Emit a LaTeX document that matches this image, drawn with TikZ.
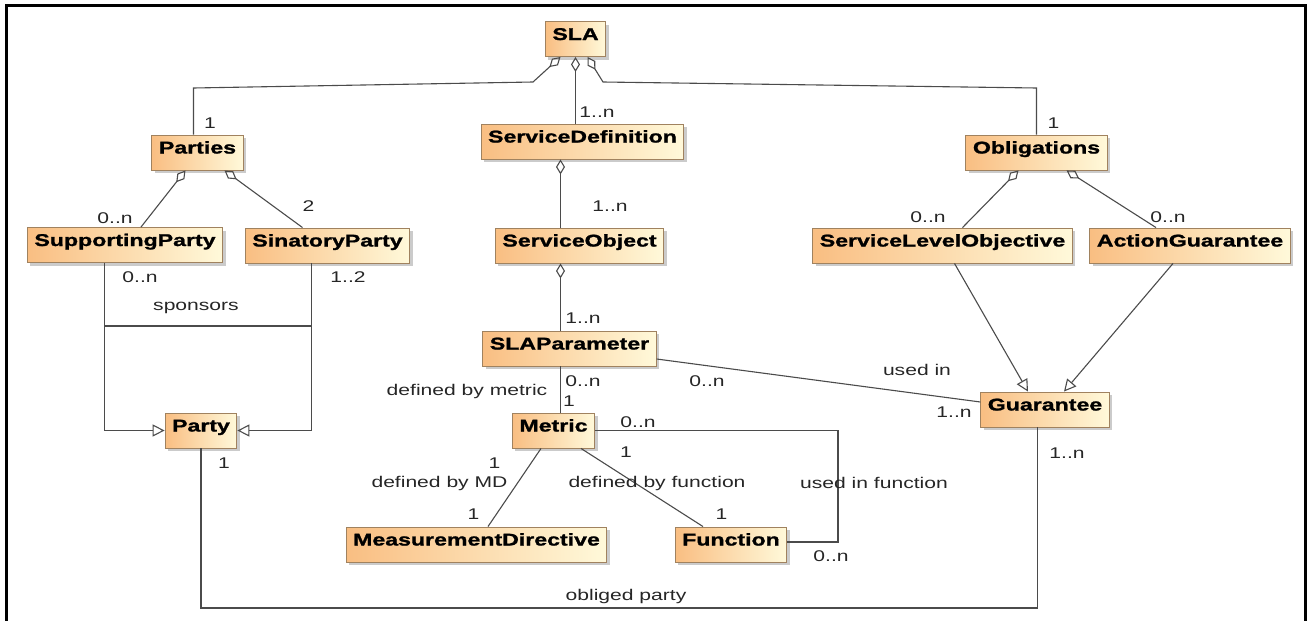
\documentclass[tikz,border=0pt]{standalone}
\usepackage{fontspec}
\setmainfont{Liberation Sans}[FakeStretch=1.36,BoldFeatures={FakeBold=1.3}]
\usepackage{tikz}
\usetikzlibrary{arrows.meta,shadows,calc}
\definecolor{boxleft}{RGB}{249,190,130}
\definecolor{boxright}{RGB}{255,249,218}
\definecolor{boxline}{RGB}{160,130,95}
\definecolor{wire}{RGB}{75,75,75}
\tikzset{%
	classbox/.style = {draw=boxline, line width=0.9pt, rectangle, left color=boxleft, right color=boxright,
		minimum height=35pt, inner xsep=7pt, inner ysep=0pt, text height=12pt, text depth=10pt,
		font=\fontsize{17}{20}\selectfont\bfseries,
		drop shadow={shadow xshift=3pt, shadow yshift=-3pt, fill=black!45, opacity=0.45}},
	assoc/.style    = {draw=wire, line width=1.1pt},
	aggr/.style     = {assoc, {Diamond[open,length=15pt,width=9pt]}-},
	gen/.style      = {assoc, -{Triangle[open,length=12pt,width=12pt]}},
	lbl/.style      = {inner sep=0pt, text=black!85, font=\fontsize{15.5}{18}\selectfont},
}
\begin{document}
\begin{tikzpicture}[x=1pt,y=-1pt]
	\useasboundingbox (0,0) rectangle (1309,621);
	% frame
	\draw[line width=3pt] (6,621) -- (6,5.5) -- (1305,5.5) -- (1305,621);
	% classes
	\node[classbox] (sla)         at (575.5,39)   {SLA};
	\node[classbox] (parties)     at (197.5,152.5) {Parties};
	\node[classbox] (servdef)     at (582.5,141.5) {ServiceDefinition};
	\node[classbox] (obligations) at (1036.5,152.5) {Obligations};
	\node[classbox] (suppparty)   at (125,245)    {SupportingParty};
	\node[classbox] (sinparty)    at (327.5,245.5) {SinatoryParty};
	\node[classbox] (servobj)     at (579.5,245.5) {ServiceObject};
	\node[classbox] (slo)         at (942.5,245.5) {ServiceLevelObjective};
	\node[classbox] (actguar)     at (1190,245.5) {ActionGuarantee};
	\node[classbox] (slaparam)    at (569.5,348.5) {SLAParameter};
	\node[classbox] (party)       at (201,430.5)  {Party};
	\node[classbox] (metric)      at (553.5,430.5) {Metric};
	\node[classbox] (guarantee)   at (1045,409.5) {Guarantee};
	\node[classbox] (measdir)     at (476.5,544.5) {MeasurementDirective};
	\node[classbox] (function)    at (731,544.5)  {Function};
	% helper points
	\coordinate (sp1) at (104.5,326);
	\coordinate (sp2) at (311.5,326);
	\coordinate (ob)  at (620,608);
	\coordinate (uf)  at (838,490);
	% composition of SLA
	\draw[aggr] ([xshift=-15pt]sla.south) -- (533,82) -- (193.5,88) -- ([xshift=-4pt]parties.north);
	\draw[aggr] (sla.south) -- (sla.south |- servdef.north);
	\draw[aggr] ([xshift=12pt]sla.south) -- (603,82) -- (1036.5,88) -- (obligations.north);
	\draw[aggr] ([xshift=-12pt]parties.south) -- ([xshift=16pt]suppparty.north);
	\draw[aggr] ([xshift=27pt]parties.south) -- ([xshift=-25pt]sinparty.north);
	\draw[aggr] ([xshift=-22pt]servdef.south) -- ([xshift=-19pt]servobj.north);
	\draw[aggr] ([xshift=-19pt]servobj.south) -- ([xshift=-9pt]slaparam.north);
	\draw[aggr] ([xshift=-18pt]obligations.south) -- ([xshift=20pt]slo.north);
	\draw[aggr] ([xshift=30pt]obligations.south) -- ([xshift=-34pt]actguar.north);
	% generalizations
	\draw[gen] ([xshift=-20.5pt]suppparty.south) |- (party.west);
	\draw[gen] ([xshift=-16pt]sinparty.south) |- (party.east);
	\draw[gen] ([xshift=12pt]slo.south) -- ([xshift=-17pt]guarantee.north);
	\draw[gen] ([xshift=-17pt]actguar.south) -- ([xshift=19pt]guarantee.north);
	% associations
	\draw[assoc] (sp1) -- (sp2);
	\draw[assoc] ([xshift=-9pt]slaparam.south) -- ([xshift=7pt]metric.north);
	\draw[assoc] ([yshift=-10.5pt]slaparam.east) -- ([yshift=7.5pt]guarantee.west);
	\draw[assoc] ([xshift=-12.5pt]metric.south) -- ([xshift=11.5pt]measdir.north);
	\draw[assoc] ([xshift=27.5pt]metric.south) -- ([xshift=-28pt]function.north);
	\draw[assoc] (metric.east) -| (uf) |- ([yshift=2.5pt]function.east);
	\draw[assoc] (party.south) |- (ob) -| ([xshift=-7.5pt]guarantee.south);
	% multiplicities and role names
	\node[lbl] (m1)  at (210,123)   {1};
	\node[lbl] (m2)  at (597,112)   {1..n};
	\node[lbl] (m3)  at (1053.5,123) {1};
	\node[lbl] (m4)  at (115,218)   {0..n};
	\node[lbl] (m5)  at (308.5,206) {2};
	\node[lbl] (m6)  at (610,206)   {1..n};
	\node[lbl] (m7)  at (928,217)   {0..n};
	\node[lbl] (m8)  at (1168,217)  {0..n};
	\node[lbl] (m9)  at (140,277)   {0..n};
	\node[lbl] (m10) at (348,277)   {1..2};
	\node[lbl] (t1)  at (196,308)   {sponsors};
	\node[lbl] (m11) at (583,318)   {1..n};
	\node[lbl] (m12) at (583,381)   {0..n};
	\node[lbl] (m13) at (569,401)   {1};
	\node[lbl] (t2)  at (467,391)   {defined by metric};
	\node[lbl] (m14) at (707,381)   {0..n};
	\node[lbl] (t3)  at (917,370)   {used in};
	\node[lbl] (m15) at (954,412)   {1..n};
	\node[lbl] (m16) at (638,422)   {0..n};
	\node[lbl] (m17) at (224,463)   {1};
	\node[lbl] (m18) at (494.5,463) {1};
	\node[lbl] (m19) at (626,452)   {1};
	\node[lbl] (m20) at (1067,453)  {1..n};
	\node[lbl] (t4)  at (439.5,483) {defined by MD};
	\node[lbl] (t5)  at (657,483)   {defined by function};
	\node[lbl] (t6)  at (874,483)   {used in function};
	\node[lbl] (m21) at (473.5,514) {1};
	\node[lbl] (m22) at (721.5,514) {1};
	\node[lbl] (m23) at (831,556)   {0..n};
	\node[lbl] (t7)  at (626,596)   {obliged party};
\end{tikzpicture}
\end{document}
